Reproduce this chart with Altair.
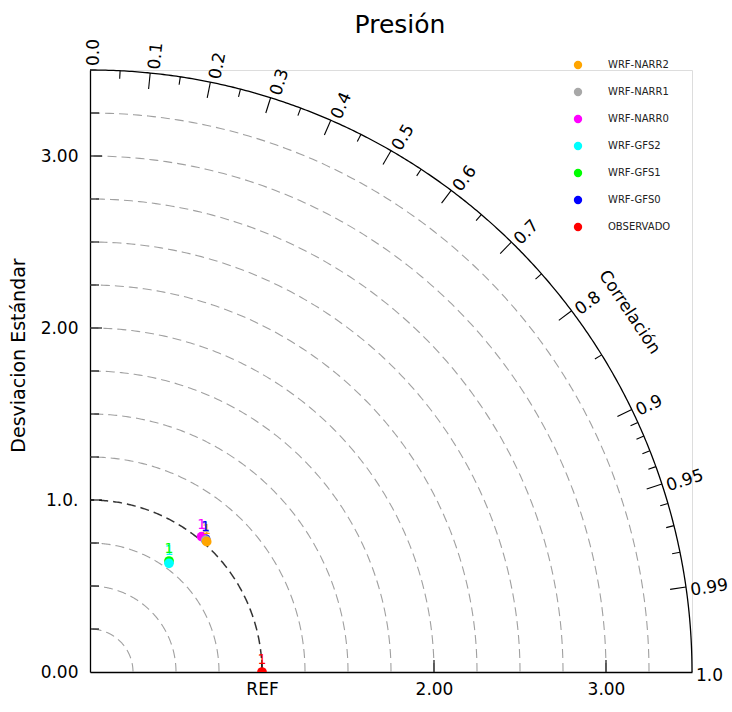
import altair as alt
import numpy as np
import pandas as pd

# Taylor diagram for surface pressure: normalised standard deviation and
# correlation of every WRF run against the observations.
cases = ["OBSERVADO", "WRF-GFS0", "WRF-GFS1", "WRF-GFS2",
         "WRF-NARR0", "WRF-NARR1", "WRF-NARR2"]
std_norm = [1.000, 1.024, 0.792, 0.781, 1.020, 1.020, 1.017]
correlation = [1.000, 0.656, 0.580, 0.588, 0.636, 0.660, 0.667]
case_colors = ["#FF0000", "#0000FF", "#00FF00", "#00FFFF",
               "#FF00FF", "#A8A8A8", "#FFA500"]
case_label = ["1", "1", "1", "1", "1", "1", "1"]

# axes and grid
R_MAX = 3.5
std_rings = [0.25, 0.5, 0.75, 1.0, 1.25, 1.5, 1.75, 2.0, 2.25, 2.5, 2.75, 3.0, 3.25]
ref_std = 1.0
y_tick_major = [1.0, 2.0, 3.0]
y_tick_minor = [0.25, 0.5, 0.75, 1.25, 1.5, 1.75, 2.25, 2.5, 2.75, 3.25]
y_label_values = [0, 1, 2, 3]
y_label_text = ["0.00", "1.0.", "2.00", "3.00"]
x_tick_values = [1.0, 2.0, 3.0]
x_label_text = ["REF", "2.00", "3.00"]
corr_major = [0.1, 0.2, 0.3, 0.4, 0.5, 0.6, 0.7, 0.8, 0.9, 0.95, 0.99]
corr_minor = [0.05, 0.15, 0.25, 0.35, 0.45, 0.55, 0.65, 0.75, 0.85,
              0.91, 0.92, 0.93, 0.94, 0.96, 0.97, 0.98]
corr_label_values = [0.0, 0.1, 0.2, 0.3, 0.4, 0.5, 0.6, 0.7, 0.8, 0.9, 0.95, 0.99, 1.0]
corr_label_text = ["0.0", "0.1", "0.2", "0.3", "0.4", "0.5", "0.6", "0.7",
                   "0.8", "0.9", "0.95", "0.99", "1.0"]

PLOT = 602                 # plot side in pixels
PX = PLOT / R_MAX          # pixels per unit of standard deviation
FONT = "DejaVu Sans"


def expr_map(values, texts):
    e = "''"
    for v, t in zip(reversed(values), reversed(texts)):
        e = f"datum.value == {v} ? '{t}' : ({e})"
    return e


# one shared x / y definition for every layer, so the axes merge cleanly
X = alt.X("x:Q", scale=alt.Scale(domain=[0, R_MAX], nice=False, zero=False),
          axis=alt.Axis(values=x_tick_values,
                        labelExpr=expr_map(x_tick_values, x_label_text),
                        ticks=False, grid=False, domainColor="black", domainWidth=1.3,
                        labelFont=FONT, labelFontSize=17, labelColor="black",
                        labelPadding=9, labelFlush=False, title=None))
Y = alt.Y("y:Q", scale=alt.Scale(domain=[0, R_MAX], nice=False, zero=False),
          axis=alt.Axis(values=y_label_values,
                        labelExpr=expr_map(y_label_values, y_label_text),
                        ticks=False, grid=False, domainColor="black", domainWidth=1.3,
                        labelFont=FONT, labelFontSize=17, labelColor="black",
                        labelPadding=12, labelFlush=False,
                        title="Desviacion Estándar", titleFont=FONT,
                        titleFontSize=19, titleFontWeight="normal", titleColor="black",
                        titleX=-72, titleY=285, titleAngle=270, titleAlign="center",
                        titleBaseline="middle"))


def arc_frame(radii, n=181):
    rows = []
    for r in radii:
        for i, t in enumerate(np.linspace(0, np.pi / 2, n)):
            rows.append({"ring": r, "i": i, "x": r * np.cos(t), "y": r * np.sin(t)})
    return pd.DataFrame(rows)


# concentric standard-deviation arcs
grid_rings = [r for r in std_rings if r != ref_std]
grid = alt.Chart(arc_frame(grid_rings)).mark_line(
    color="#a0a0a0", strokeWidth=1.1, strokeDash=[9, 5]
).encode(x=X, y=Y, detail="ring:N", order="i:Q")

ref_arc = alt.Chart(arc_frame([ref_std])).mark_line(
    color="#333333", strokeWidth=1.5, strokeDash=[9, 5]
).encode(x=X, y=Y, detail="ring:N", order="i:Q")

outer_arc = alt.Chart(arc_frame([R_MAX], n=361)).mark_line(
    color="black", strokeWidth=1.3
).encode(x=X, y=Y, detail="ring:N", order="i:Q")

# inward tick marks on the standard-deviation axes
tick_rows = []
for v in y_tick_major:
    tick_rows.append({"x": 0, "y": v, "x2": 12 / PX, "y2": v})
for v in y_tick_minor:
    tick_rows.append({"x": 0, "y": v, "x2": 9 / PX, "y2": v})
for v in x_tick_values:
    tick_rows.append({"x": v, "y": 0, "x2": v, "y2": 12 / PX})

# inward tick marks on the correlation arc
for c, length in [(c, 16) for c in corr_major] + [(c, 8) for c in corr_minor]:
    t = np.arccos(c)
    r2 = R_MAX - length / PX
    tick_rows.append({"x": R_MAX * np.cos(t), "y": R_MAX * np.sin(t),
                      "x2": r2 * np.cos(t), "y2": r2 * np.sin(t)})

ticks = alt.Chart(pd.DataFrame(tick_rows)).mark_rule(
    color="black", strokeWidth=1.1
).encode(x=X, y=Y, x2="x2:Q", y2="y2:Q")

# correlation labels, written along the radius
lab_rows = []
r_lab = R_MAX + 4 / PX
for c, s in zip(corr_label_values, corr_label_text):
    t = np.arccos(c)
    lab_rows.append({"x": r_lab * np.cos(t), "y": r_lab * np.sin(t), "text": s,
                     "ang": (360 - np.degrees(t)) % 360})

corr_labels = alt.Chart(pd.DataFrame(lab_rows)).mark_text(
    font=FONT, fontSize=17, align="left", baseline="middle", dy=4, color="black"
).encode(x=X, y=Y, text="text:N", angle=alt.Angle("ang:Q", scale=None))

t_title = np.radians(33.7)
r_title = 3.77
corr_title = alt.Chart(pd.DataFrame([{
    "x": r_title * np.cos(t_title), "y": r_title * np.sin(t_title),
    "text": "Correlación", "ang": 90 - np.degrees(t_title)}])).mark_text(
    font=FONT, fontSize=17, align="center", baseline="middle", color="black"
).encode(x=X, y=Y, text="text:N", angle=alt.Angle("ang:Q", scale=None))

# the runs themselves
theta = np.arccos(np.array(correlation))
pts = pd.DataFrame({
    "case": cases,
    "x": np.array(std_norm) * np.cos(theta),
    "y": np.array(std_norm) * np.sin(theta),
    "draw": list(range(len(cases))),
    "lab": case_label,
})
# labels stacked so the blue and green numbers end up on top
label_rank = {"OBSERVADO": 0, "WRF-NARR2": 1, "WRF-NARR1": 2, "WRF-NARR0": 3,
              "WRF-GFS2": 4, "WRF-GFS1": 5, "WRF-GFS0": 6}
pts["lab_order"] = pts["case"].map(label_rank)

legend_order = cases[::-1]
legend_colors = case_colors[::-1]
color_scale = alt.Scale(domain=legend_order, range=legend_colors)
color = alt.Color("case:N", scale=color_scale,
                  legend=alt.Legend(title=None, orient="none", legendX=483, legendY=-10,
                                    symbolType="circle", symbolSize=70,
                                    symbolStrokeWidth=0, labelFont=FONT,
                                    labelFontSize=10, labelColor="#222222",
                                    labelOffset=25, rowPadding=17, padding=0))

points = alt.Chart(pts).mark_point(filled=True, size=95, opacity=1, clip=True).encode(
    x=X, y=Y, color=color, order=alt.Order("draw:Q"))

point_labels = alt.Chart(pts.sort_values("lab_order")).mark_text(
    font=FONT, fontSize=14, baseline="bottom", dy=-5
).encode(x=X, y=Y, text="lab:N",
         color=alt.Color("case:N", scale=color_scale, legend=None))

chart = alt.layer(
    grid, ref_arc, outer_arc, ticks, corr_labels, corr_title, points, point_labels
).properties(
    width=PLOT, height=PLOT,
    autosize=alt.AutoSizeParams(type="none"),
    padding={"left": 90, "top": 70, "right": 40, "bottom": 40},
    title=alt.TitleParams("Presión", font=FONT, fontSize=25, fontWeight="normal",
                          color="black", anchor="middle", dx=9, offset=1),
).configure_view(strokeWidth=0).configure(background="white")

chart.save("out.html", embed_options={"renderer": "svg", "actions": False})
